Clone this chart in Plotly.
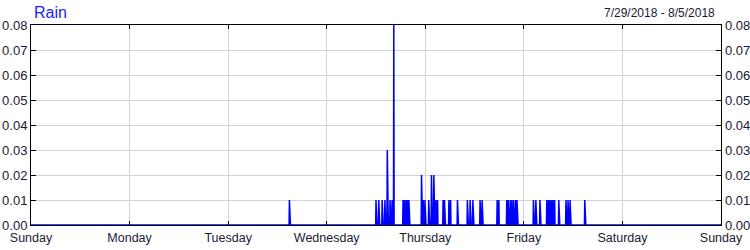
import pandas as pd
import plotly.graph_objects as go

# Rain readings (non-zero tips); all other 5-minute readings are 0.00
rain_times = [
    "2018-07-31 14:55",
    "2018-08-01 12:00", "2018-08-01 12:40", "2018-08-01 13:30", "2018-08-01 14:10",
    "2018-08-01 14:45", "2018-08-01 15:25", "2018-08-01 15:55", "2018-08-01 16:20",
    "2018-08-01 18:35", "2018-08-01 18:55", "2018-08-01 19:20", "2018-08-01 19:40",
    "2018-08-01 20:00", "2018-08-01 23:05", "2018-08-01 23:30", "2018-08-01 23:55",
    "2018-08-02 00:50", "2018-08-02 01:30", "2018-08-02 02:05", "2018-08-02 02:35",
    "2018-08-02 03:00", "2018-08-02 04:20", "2018-08-02 04:40", "2018-08-02 05:45",
    "2018-08-02 06:10", "2018-08-02 07:50", "2018-08-02 10:15", "2018-08-02 10:55",
    "2018-08-02 11:35", "2018-08-02 13:20", "2018-08-02 13:50", "2018-08-02 17:30",
    "2018-08-02 17:55", "2018-08-02 19:50", "2018-08-02 20:10", "2018-08-02 20:40",
    "2018-08-02 21:05", "2018-08-02 21:30", "2018-08-02 22:00", "2018-08-02 22:20",
    "2018-08-03 02:20", "2018-08-03 02:55", "2018-08-03 03:55", "2018-08-03 05:35",
    "2018-08-03 06:00", "2018-08-03 06:20", "2018-08-03 06:45", "2018-08-03 07:05",
    "2018-08-03 07:30", "2018-08-03 08:30", "2018-08-03 10:15", "2018-08-03 10:45",
    "2018-08-03 11:15", "2018-08-03 14:50",
]
rain_values = [
    0.01,
    0.01, 0.01, 0.01, 0.01,
    0.03, 0.01, 0.01, 0.08,
    0.01, 0.01, 0.01, 0.01,
    0.01, 0.02, 0.01, 0.01,
    0.01, 0.02, 0.02, 0.01,
    0.01, 0.01, 0.01, 0.01,
    0.01, 0.01, 0.01, 0.01,
    0.01, 0.01, 0.01, 0.01,
    0.01, 0.01, 0.01, 0.01,
    0.01, 0.01, 0.01, 0.01,
    0.01, 0.01, 0.01, 0.01,
    0.01, 0.01, 0.01, 0.01,
    0.01, 0.01, 0.01, 0.01,
    0.01, 0.01,
]

day_ticks = ["2018-07-29", "2018-07-30", "2018-07-31", "2018-08-01",
             "2018-08-02", "2018-08-03", "2018-08-04", "2018-08-05"]
day_labels = ["Sunday", "Monday", "Tuesday", "Wednesday",
              "Thursday", "Friday", "Saturday", "Sunday"]
y_ticks = [0.00, 0.01, 0.02, 0.03, 0.04, 0.05, 0.06, 0.07, 0.08]

title_text = "Rain"
range_text = "7/29/2018 - 8/5/2018"

grid = pd.date_range(day_ticks[0], day_ticks[-1], freq="5min")
s = pd.Series(0.0, index=grid)
s.loc[pd.to_datetime(rain_times)] = rain_values

FONT = "Liberation Sans"
TXT = "#1a1a33"

fig = go.Figure()
fig.add_trace(go.Scatter(x=s.index, y=s.values, mode="lines",
                         line=dict(color="#0000ff", width=1.5),
                         hoverinfo="x+y", showlegend=False))
fig.add_trace(go.Scatter(x=s.index, y=s.values, mode="lines", yaxis="y2",
                         line=dict(color="rgba(0,0,0,0)", width=0),
                         hoverinfo="skip", showlegend=False))

fig.update_layout(
    width=750, height=250,
    margin=dict(l=31, r=29, t=25, b=25, autoexpand=False),
    paper_bgcolor="white", plot_bgcolor="white",
    font=dict(family=FONT, size=12.5, color="#000000"),
    xaxis=dict(
        range=[day_ticks[0], day_ticks[-1]], automargin=False,
        tickmode="array", tickvals=day_ticks, ticktext=day_labels,
        showgrid=True, gridcolor="#d3d3d3", gridwidth=1,
        showline=True, linecolor="black", linewidth=1, mirror="ticks",
        ticks="inside", ticklen=4, tickcolor="black",
        zeroline=False, tickfont=dict(size=12.5, color=TXT),
        ticklabelstandoff=1,
    ),
    yaxis=dict(
        range=[0, 0.08], tickmode="array", tickvals=y_ticks, automargin=False,
        tickformat=".2f",
        showgrid=True, gridcolor="#d3d3d3", gridwidth=1,
        showline=True, linecolor="black", linewidth=1, mirror="ticks",
        ticks="inside", ticklen=5, tickcolor="black",
        zeroline=False, tickfont=dict(size=13, color=TXT),
        ticklabelstandoff=0,
    ),
    yaxis2=dict(
        range=[0, 0.08], tickmode="array", tickvals=y_ticks, automargin=False,
        tickformat=".2f", overlaying="y", side="right",
        showgrid=False, showline=False, zeroline=False, ticks="",
        tickfont=dict(size=13, color=TXT),
        ticklabelstandoff=3,
    ),
    annotations=[
        dict(text=title_text, xref="paper", yref="paper", x=0, y=1,
             xshift=1, yshift=2, xanchor="left", yanchor="bottom",
             showarrow=False, font=dict(family=FONT, size=16, color="#2020ff")),
        dict(text=range_text, xref="paper", yref="paper", x=1, y=1,
             xshift=-4, yshift=3, xanchor="right", yanchor="bottom",
             showarrow=False, font=dict(family=FONT, size=12, color=TXT)),
    ],
)

fig.write_html("out.html")
